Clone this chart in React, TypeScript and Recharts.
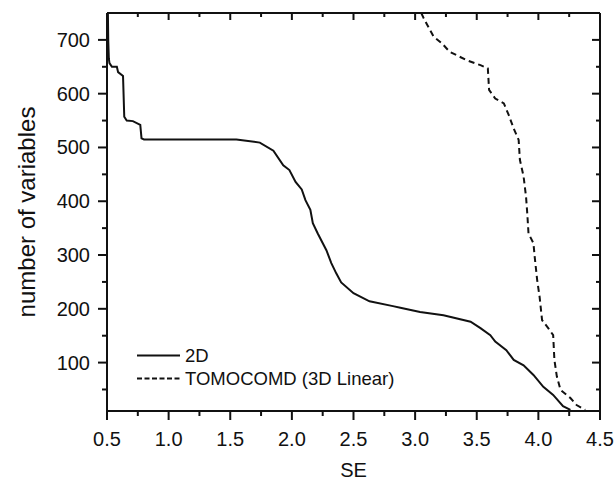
import { LineChart, Line, XAxis, YAxis, Legend, Label } from "recharts";

// ─── Data ─────────────────────────────────────────────────────────────────────

const se2D = [
  0.505, 0.51, 0.515, 0.52, 0.54, 0.58, 0.59, 0.63, 0.64, 0.66, 0.71, 0.77, 0.78, 0.8,
  1.55, 1.74, 1.85, 1.93, 1.98, 2.03, 2.08, 2.11, 2.15, 2.17, 2.21, 2.28, 2.32, 2.36,
  2.4, 2.5, 2.63, 2.82, 2.88, 3.04, 3.23, 3.45, 3.53, 3.61, 3.65, 3.74, 3.8, 3.88,
  3.96, 4.04, 4.12, 4.2, 4.26,
];
const vars2D = [
  790, 700, 665, 657, 650, 650, 640, 633, 557, 550, 549, 542, 517, 515,
  515, 509, 494, 467, 458, 436, 422, 402, 384, 359, 340, 309, 285, 266,
  249, 229, 214, 205, 202, 194, 188, 176, 164, 151, 139, 123, 105, 95,
  77, 55, 40, 19, 12,
];

const seTomo = [
  3.05, 3.07, 3.15, 3.22, 3.28, 3.42, 3.53, 3.59, 3.6, 3.65, 3.72, 3.76, 3.8, 3.84,
  3.85, 3.88, 3.9, 3.91, 3.92, 3.96, 3.97, 3.99, 4.01, 4.03, 4.08, 4.12, 4.13, 4.15,
  4.18, 4.26, 4.31, 4.38,
];
const varsTomo = [
  750, 740, 706, 693, 678, 662, 653, 647, 607, 591, 582, 560, 535, 514,
  477, 446, 408, 377, 340, 322, 297, 254, 222, 179, 164, 151, 105, 74,
  49, 34, 21, 12,
];

const xMajorTicks = [0.5, 1.0, 1.5, 2.0, 2.5, 3.0, 3.5, 4.0, 4.5];
const xAllTicks = [
  0.5, 0.75, 1.0, 1.25, 1.5, 1.75, 2.0, 2.25, 2.5, 2.75, 3.0, 3.25, 3.5, 3.75, 4.0, 4.25, 4.5,
];
const yMajorTicks = [100, 200, 300, 400, 500, 600, 700];
const yAllTicks = [50, 100, 150, 200, 250, 300, 350, 400, 450, 500, 550, 600, 650, 700];

const data2D = se2D.map((x, i) => ({ x, y: vars2D[i] }));
const dataTomo = seTomo.map((x, i) => ({ x, y: varsTomo[i] }));

const FONT = '"Liberation Sans", Arial, Helvetica, sans-serif';
const INK = "#111";

// ─── Ticks ────────────────────────────────────────────────────────────────────

function XTick({ x, y, payload, side }: any) {
  const v = payload.value;
  const major = xMajorTicks.includes(v);
  if (side === "top") {
    return <line x1={x} x2={x} y1={y} y2={y + (major ? 7 : 4)} stroke={INK} strokeWidth={2} />;
  }
  return (
    <g>
      <line x1={x} x2={x} y1={y} y2={y + (major ? 9 : 5)} stroke={INK} strokeWidth={2} />
      {major && (
        <text x={x} y={y + 35} textAnchor="middle" fontSize={20} fontFamily={FONT} fill={INK}>
          {v.toFixed(1)}
        </text>
      )}
    </g>
  );
}

function YTick({ x, y, payload, side }: any) {
  const v = payload.value;
  const major = yMajorTicks.includes(v);
  if (side === "right") {
    return <line x1={x} x2={x - (major ? 8 : 4)} y1={y} y2={y} stroke={INK} strokeWidth={2} />;
  }
  return (
    <g>
      <line x1={x - (major ? 9 : 5)} x2={x} y1={y} y2={y} stroke={INK} strokeWidth={2} />
      {major && (
        <text x={x - 17} y={y + 7} textAnchor="end" fontSize={20} fontFamily={FONT} fill={INK}>
          {v}
        </text>
      )}
    </g>
  );
}

// ─── Legend ───────────────────────────────────────────────────────────────────

function LegendBox() {
  const rows = [
    { label: "2D", dash: undefined },
    { label: "TOMOCOMD (3D Linear)", dash: "5 2.5" },
  ];
  return (
    <div style={{ fontFamily: FONT, fontSize: 18.5, color: INK }}>
      {rows.map((r) => (
        <div key={r.label} style={{ display: "flex", alignItems: "center", height: 23, lineHeight: "23px" }}>
          <svg width={43} height={23} style={{ marginRight: 5 }}>
            <line x1={0} x2={43} y1={11.5} y2={11.5} stroke={INK} strokeWidth={2} strokeDasharray={r.dash} />
          </svg>
          <span style={{ whiteSpace: "nowrap" }}>{r.label}</span>
        </div>
      ))}
    </div>
  );
}

// ─── Chart ────────────────────────────────────────────────────────────────────

// the dashed series sits on the mirrored top/right axes (same domains) so the
// frame is drawn with its inward ticks; those axes need a non-zero size to render
export default function App() {
  return (
    <div style={{ position: "absolute", left: 0, top: 0, background: "#fff" }}>
      <LineChart width={616} height={480} margin={{ top: 12, right: 15, left: 0, bottom: 0 }}>
        <XAxis
          xAxisId="main"
          dataKey="x"
          type="number"
          domain={[0.5, 4.5]}
          ticks={xAllTicks}
          interval={0}
          allowDataOverflow
          height={69}
          tickSize={0}
          tickMargin={0}
          tickLine={false}
          axisLine={{ stroke: INK, strokeWidth: 2 }}
          tick={(p: any) => <XTick {...p} side="bottom" />}
        >
          <Label
            content={({ viewBox }: any) => (
              <text
                x={viewBox.x + viewBox.width / 2}
                y={viewBox.y + 66}
                textAnchor="middle"
                fontSize={20}
                fontFamily={FONT}
                fill={INK}
              >
                SE
              </text>
            )}
          />
        </XAxis>
        <XAxis
          xAxisId="top"
          orientation="top"
          dataKey="x"
          type="number"
          domain={[0.5, 4.5]}
          ticks={xAllTicks}
          interval={0}
          allowDataOverflow
          height={1}
          tickSize={0}
          tickMargin={0}
          tickLine={false}
          axisLine={{ stroke: INK, strokeWidth: 2 }}
          tick={(p: any) => <XTick {...p} side="top" />}
        />
        <YAxis
          yAxisId="main"
          type="number"
          domain={[10, 750]}
          ticks={yAllTicks}
          interval={0}
          allowDataOverflow
          width={107}
          tickSize={0}
          tickMargin={0}
          tickLine={false}
          axisLine={{ stroke: INK, strokeWidth: 2 }}
          tick={(p: any) => <YTick {...p} side="left" />}
        >
          <Label
            content={({ viewBox }: any) => {
              const cx = viewBox.x + 26;
              const cy = viewBox.y + viewBox.height / 2;
              return (
                <text
                  x={cx}
                  y={cy}
                  transform={`rotate(-90 ${cx} ${cy})`}
                  textAnchor="middle"
                  dominantBaseline="central"
                  fontSize={24}
                  fontFamily={FONT}
                  fill={INK}
                >
                  number of variables
                </text>
              );
            }}
          />
        </YAxis>
        <YAxis
          yAxisId="right"
          orientation="right"
          type="number"
          domain={[10, 750]}
          ticks={yAllTicks}
          interval={0}
          allowDataOverflow
          width={1}
          tickSize={0}
          tickMargin={0}
          tickLine={false}
          axisLine={{ stroke: INK, strokeWidth: 2 }}
          tick={(p: any) => <YTick {...p} side="right" />}
        />
        <Legend
          layout="vertical"
          align="center"
          verticalAlign="middle"
          content={() => <LegendBox />}
          wrapperStyle={{ position: "absolute", left: 137, top: 344, width: "auto", height: "auto" }}
        />
        <Line
          xAxisId="main"
          yAxisId="main"
          data={data2D}
          dataKey="y"
          name="2D"
          type="linear"
          stroke={INK}
          strokeWidth={2}
          dot={false}
          activeDot={false}
          isAnimationActive={false}
        />
        <Line
          xAxisId="top"
          yAxisId="right"
          data={dataTomo}
          dataKey="y"
          name="TOMOCOMD (3D Linear)"
          type="linear"
          stroke={INK}
          strokeWidth={2}
          strokeDasharray="6 4"
          dot={false}
          activeDot={false}
          isAnimationActive={false}
        />
      </LineChart>
    </div>
  );
}
